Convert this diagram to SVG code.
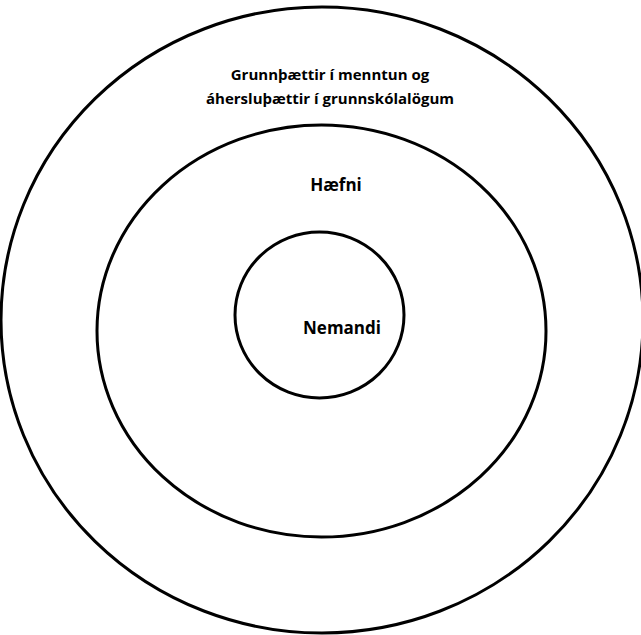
<svg xmlns="http://www.w3.org/2000/svg" width="641" height="635" viewBox="0 0 641 635">
<style>
.ring{fill:none;stroke:#000;stroke-width:3}
.lbl{font-family:"Open Sans","Liberation Sans",sans-serif;font-weight:bold;fill:#000;text-anchor:middle}
</style>
<rect width="641" height="635" fill="#fff"/>
<g id="outer">
<ellipse class="ring" cx="322" cy="320" rx="321" ry="313"/>
<text class="lbl" x="330" y="80" font-size="15">Grunnþættir í menntun og</text>
<text class="lbl" x="330" y="104" font-size="15">áhersluþættir í grunnskólalögum</text>
</g>
<g id="middle">
<ellipse class="ring" cx="321.5" cy="331" rx="224.5" ry="206"/>
<text class="lbl" x="336" y="191" font-size="17">Hæfni</text>
</g>
<g id="inner">
<ellipse class="ring" cx="319.5" cy="315" rx="84.5" ry="83"/>
<text class="lbl" x="342" y="334" font-size="17">Nemandi</text>
</g>
<g id="connectors"/>
</svg>
